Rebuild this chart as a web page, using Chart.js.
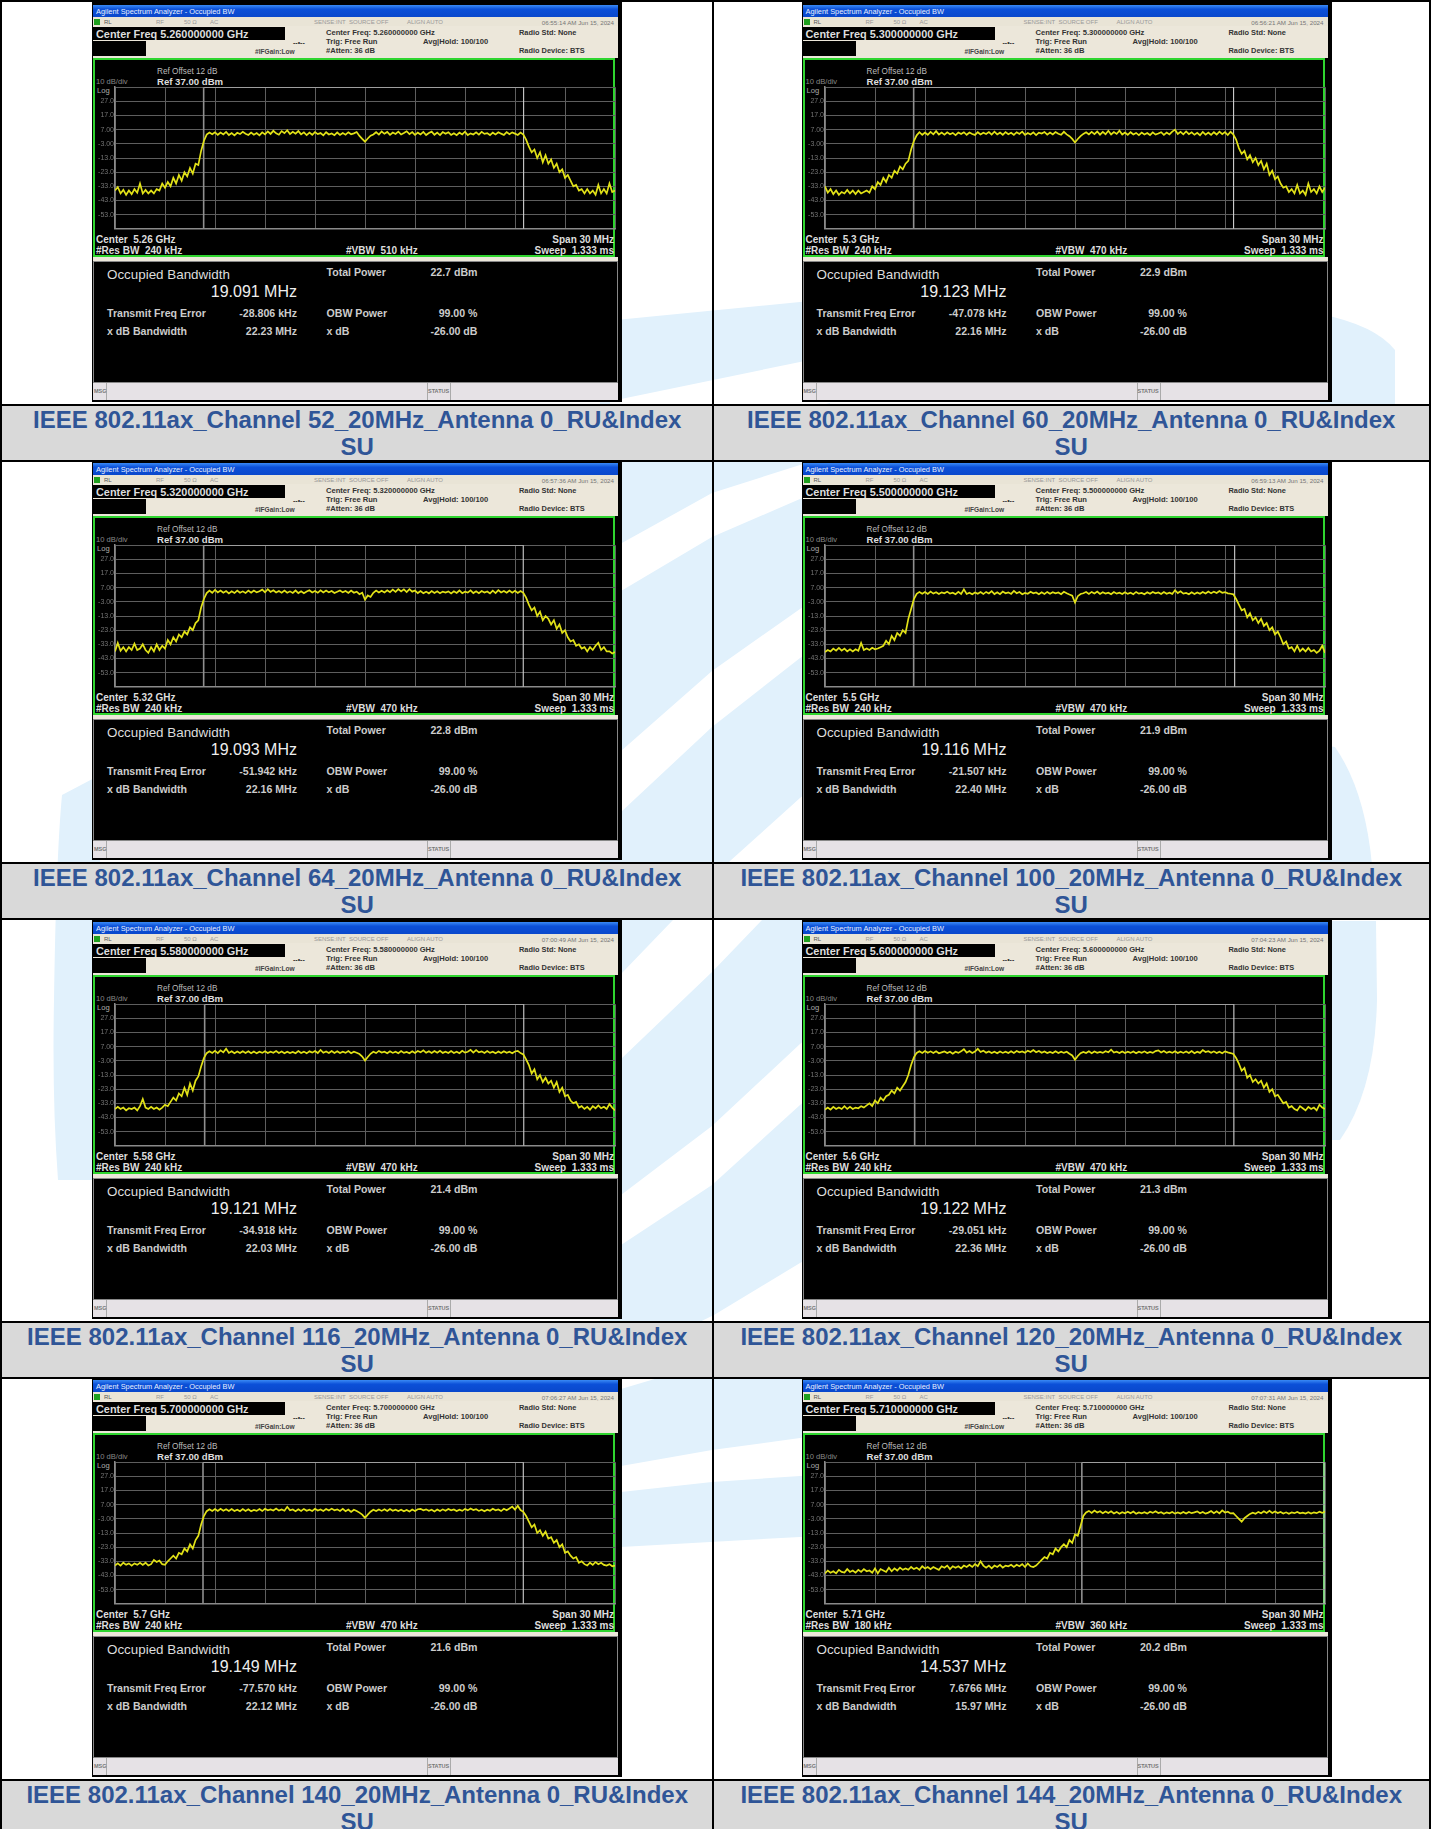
<!DOCTYPE html>
<html><head><meta charset="utf-8">
<script src="https://cdn.jsdelivr.net/npm/chart.js@4"></script>
<style>
html,body{margin:0;padding:0;background:#fff;width:1431px;height:1829px;overflow:hidden;font-family:"Liberation Sans",Arial,sans-serif}
#page{position:relative;width:1431px;height:1829px;overflow:hidden}
#wm{position:absolute;left:0;top:0}
.line{position:absolute;background:#000}
.cap{position:absolute;background:#d9d9d9;color:#2f5597;font-weight:bold;font-size:24px;line-height:27px;text-align:center;white-space:pre-line;overflow:hidden}
.shot{position:absolute;width:530px;height:400px;background:#000;overflow:hidden;filter:blur(.4px)}
.box{position:absolute}
.t{position:absolute;white-space:nowrap;transform:translateY(-50%)}
.r{transform:translate(-100%,-50%)}
canvas{position:absolute}
</style></head><body><div id="page">
<svg id="wm" width="1431" height="1829" viewBox="0 0 1431 1829">
<g fill="#e1f1fc">
<polygon points="600,322 621,319.5 800,302 830,300 830,1537 800,1537 621,1547 600,1547"/>
<path d="M1320,314 Q1375,325 1395,350 L1395,404 L1320,404 Z"/>
<path d="M1320,745 L1335,747 Q1365,790 1372,865 L1320,865 Z"/>
<path d="M1320,921 L1376,921 L1377,1000 Q1375,1090 1340,1140 L1320,1140 Z"/>
<path d="M100,775 L62,795 Q56,860 54,1000 Q52,1100 58,1180 L100,1180 Z"/>
</g>
<g fill="#fff">
<polygon points="610,401 621,399 800,362 830,355 830,403 800,410 621,445 610,447"/>
<polygon points="610,550 621,543.6 712,493 800,465 830,458 830,492 800,499 712,537 621,591 610,598"/>
<polygon points="610,760 621,751 712,671 800,609 830,592 830,641 800,658 712,727 621,812 610,822"/>
<polygon points="610,984 621,974 673,920 730,861 800,798 830,775 830,860 800,880 762,920 712,972 621,1059 610,1070"/>
<polygon points="610,1204 621,1195 712,1126 800,1044 830,1020 830,1082 800,1105 712,1185 621,1245 610,1254"/>
<polygon points="610,1368 621,1360 714,1315 800,1263 830,1247 830,1320 800,1330 658,1378 621,1389 610,1393"/>
<polygon points="610,1468 621,1466 712,1450 800,1438 830,1435 830,1474 800,1476 712,1482 621,1492 610,1493"/>
</g>
</svg>
</div>
<script>
const channels=[52,60,64,100,116,120,140,144];
const centerFreqFull=["5.260000000","5.300000000","5.320000000","5.500000000","5.580000000","5.600000000","5.700000000","5.710000000"];
const centerLabel=["5.26","5.3","5.32","5.5","5.58","5.6","5.7","5.71"];
const timeStamp=["06:55:14 AM Jun 15, 2024","06:56:21 AM Jun 15, 2024","06:57:36 AM Jun 15, 2024","06:59:13 AM Jun 15, 2024","07:00:49 AM Jun 15, 2024","07:04:23 AM Jun 15, 2024","07:06:27 AM Jun 15, 2024","07:07:31 AM Jun 15, 2024"];
const resBw=["240","240","240","240","240","240","240","180"];
const vbw=["510","470","470","470","470","470","470","360"];
const obwMHz=["19.091","19.123","19.093","19.116","19.121","19.122","19.149","14.537"];
const totalPower=["22.7","22.9","22.8","21.9","21.4","21.3","21.6","20.2"];
const freqError=["-28.806 kHz","-47.078 kHz","-51.942 kHz","-21.507 kHz","-34.918 kHz","-29.051 kHz","-77.570 kHz","7.6766 MHz"];
const xdbBandwidth=["22.23","22.16","22.16","22.40","22.03","22.36","22.12","15.97"];
const markerLeft=[-9.68,-9.68,-9.68,-9.68,-9.62,-9.62,-9.72,0.41];
const markerRight=[9.517,9.515,9.495,9.58,9.526,9.532,9.497,14.945];
const yTickValues=[27,17,7,-3,-13,-23,-33,-43,-53];
const yTickLabels=["27.0","17.0","7.00","-3.00","-13.0","-23.0","-33.0","-43.0","-53.0"];

const trace52=[-36,-33.5,-38,-35.5,-39,-36,-38.5,-35,-37.5,-31,
-38,-35.5,-38,-36,-38,-35,-36,-31,-34,-30,
-33,-27,-31,-25,-29,-23,-26,-20,-24,-17,
-18,-8,-1,3.5,5,3.8,5.2,3.4,4.9,3.6,
5.4,3.2,4.6,3,4.8,3.9,5.5,4.1,3.3,5,
3.5,4.6,3,5.1,3.7,5.8,4,6.2,4.4,3.4,
6,4.5,6.6,3.9,5.5,4.2,6,3.7,5.1,3.2,
4.9,3.4,5.3,3.9,4.6,3,5.2,3.6,4.3,3.1,
5,3.3,4.6,3.5,5.2,3.8,4.4,5.3,2.6,0.5,
-1.5,0.8,2.8,3.6,5.2,3.5,5.7,4.1,5.4,3.3,
5,4,5.6,3.6,4.6,5.9,3.9,5.3,3.3,4.9,
3.7,5.4,3.2,4.6,5.6,3.4,4.9,3.2,5.3,4.1,
5.2,3.3,4.5,3.1,4.9,3.7,5.6,3.2,4.4,3.6,
5.1,3.5,5.5,4,4.6,3.2,4.9,3.7,5.2,4.2,
3.3,5.3,3.8,5.1,4.2,3.3,5,3.6,0,-5,
-9,-7,-13,-9,-16,-11,-17,-14,-20,-17,
-23,-21,-27,-25,-29,-33,-32,-36,-35,-38,
-35,-38,-36,-39,-32,-38,-35,-38,-31,-37,
-36];
const trace60=[-33,-37.5,-35,-38.5,-36,-39,-37,-38,-35.5,-38,
-36,-38.5,-36,-38,-37,-36,-37.5,-33,-35,-30,
-32,-27,-30,-25,-27,-22,-24,-19,-21,-17,
-15,-7,-1,3,5.2,3.4,5,3.4,5.4,3.7,
6,3.6,4.9,3.5,5.1,3.8,4.7,3.2,5,3.9,
5.2,3.4,5,4,3.3,5.2,3.7,4.9,4,5.3,
3.5,5.6,3.7,4.9,3.4,5.3,3.8,4.8,3.3,5.2,
4,5.6,3.3,4.7,3.6,5.1,3.2,4.9,4.3,5.4,
3.5,5,3.6,5.3,4.1,3.4,5.5,3.7,2.4,0.5,
-2,0.4,2.5,4,5.1,3.6,5.4,3.8,5.7,3.5,
5.5,3.8,6.2,3.6,5.3,4,6.3,3.6,5,3.4,
5.2,3.6,4.7,3.2,4.9,3.6,4.6,3.2,5.1,3.5,
4.3,5.2,3.3,5,3.7,5.6,7,4,5.5,3.7,
5.8,3.8,5.1,3.4,4.8,3.1,5.4,3.5,5,3.3,
5.2,3.6,5.6,3.8,5.3,3.2,5.5,3.6,0,-6,
-10,-8,-14,-11,-16,-13,-18,-15,-21,-17,
-25,-22,-28,-26,-31,-34,-33,-37,-35,-38,
-32,-38,-36,-39,-31,-37,-35,-38,-33,-37,
-34];
const trace64=[-38,-32,-37.5,-35,-38,-35,-37,-32.5,-37,-36,
-33,-37,-39,-35,-38,-33,-37,-34,-36,-30,
-33,-28,-31,-26,-28,-24,-26,-21,-23,-18,
-16,-7,-1,3.2,5,3.4,5.4,3.6,5,3.4,
4.6,3,4.4,3.2,5,3.4,4.4,3.2,4.9,3.4,
5,3.7,4.5,5.6,3.8,5.9,4,5.2,3.6,4.7,
3.4,4.9,3.4,4.4,3.3,5,3.2,4.5,3.1,4.3,
5.2,3.6,4.6,3.4,5.1,3.6,5,3.7,4.6,3.2,
4.1,5,3.7,4.6,3.3,5,3.4,4.2,2.4,3.4,
-1.5,1.5,0.5,3.4,5,3.6,4.8,3.6,5.2,3.8,
5.6,4,6,4.3,5.8,3.9,6,4.2,5,3.2,
4.6,3.1,4.2,3,4.6,3.3,4.4,3,4.2,3.5,
4.4,3,4.5,3.3,5,3.1,4.1,3.5,5.1,3.2,
4.5,3.1,4.6,3.6,4.3,3,4.9,3.2,5.3,3.6,
4.6,3.4,5,3.5,4.8,3.3,4.7,3.4,0,-5,
-9,-7,-13,-10,-16,-13,-15,-19,-16,-22,
-19,-25,-23,-28,-31,-30,-34,-33,-36,-35,
-38,-35,-37,-34,-32,-37,-35,-38,-38,-39.5,
-38.5];
const trace100=[-38.5,-37,-38,-36,-37.5,-35.5,-37.5,-36,-38,-36.5,
-38,-36.5,-37.5,-32,-37,-36,-37,-35.5,-36.5,-36,
-35,-34,-30.5,-33,-27,-30,-25,-27,-23,-25,
-15,-8,-1,2.6,4,2.7,3.9,2.6,4.2,2.8,
3.8,2.5,3.7,3,4.2,2.8,3.5,2.4,4,2.6,
5.8,2.6,3.5,2.4,3.6,2.7,3.9,2.5,4,2.9,
4.6,2.5,3.8,2.4,4.2,3,3.7,2.6,4.7,3.1,
3.9,2.4,3.3,2.7,4.1,3,3.6,2.4,3.7,2.6,
4,2.7,3.8,3,3.6,2.4,4.1,3.1,2.2,1.4,
-3.5,1,2.5,3.1,3.9,2.6,4,2.9,4.3,2.6,
3.8,2.9,3.5,2.4,3.9,2.8,3.4,2.5,3.7,2.6,
3.4,2.4,4,2.8,3.3,2.4,3.7,2.7,3.9,3,
3.6,2.5,3.9,2.7,3.4,2.6,5.2,3.2,4.4,2.8,
3.3,2.4,3.7,2.5,3.6,2.7,3.9,2.9,4.3,3,
4.2,3.2,4.6,3.4,3.9,3,2.7,2.3,-1,-5,
-9,-8,-14,-11,-16,-14,-18,-15,-20,-18,
-23,-21,-26,-24,-28,-33,-31,-36,-35,-38,
-34,-38,-36,-38,-35.5,-38,-37,-39,-37.5,-34,
-39];
const trace116=[-37,-35.5,-37,-36,-38,-36.5,-37,-36,-38,-35,
-30,-36,-37,-35.5,-37,-36,-37.5,-36,-34,-35,
-32,-29,-31,-26,-28,-22,-27,-19,-24,-17,
-14,-7,-1,2.4,3.8,2.6,4,2.5,4.4,3,
5.5,2.6,3.8,2.4,3.6,2.5,3.8,2.6,3.7,2.4,
3.6,2.3,3.4,2.6,3.7,2.5,3.4,2.7,3.9,2.5,
3.6,2.4,3.5,2.5,3.3,2.4,3.9,2.6,3.5,2.3,
3.7,2.8,3.9,2.5,4.7,2.7,3.6,2.5,3.9,2.6,
3.7,2.5,3.4,2.6,3.9,2.4,3.5,2.7,1.8,0,
-2.8,-0.3,2,3.4,2.5,4,2.9,3.4,2.4,3.8,
2.6,3.5,2.4,3.9,2.6,3.3,2.4,3.7,2.5,3.9,
3,4.4,2.7,3.8,2.5,3.9,2.7,4.1,2.6,3.4,
2.5,3.9,2.6,3.5,2.4,4.1,2.8,3.4,4.8,2.8,
4.6,3,3.7,2.5,3.9,2.6,3.4,2.3,3.6,2.5,
3.8,2.7,3.4,2.4,3.6,4,2.5,1.5,-2,-6,
-12,-9,-16,-13,-18,-15,-19,-17,-22,-18,
-25,-22,-28,-27,-31,-33,-32,-36,-35,-37,
-35.5,-37.5,-35,-36.5,-34.5,-36.5,-35.5,-37,-33.5,-36,
-38];
const trace120=[-37.5,-36,-37.5,-35.5,-37,-36,-37,-35,-37,-35.5,
-37,-36,-36.5,-35,-36,-34.5,-33,-35,-31,-33,
-29,-31,-28,-27,-24,-26,-22,-24,-21,-18,
-13,-6,-0.5,2.6,3.8,2.6,3.9,2.7,3.7,2.5,
3.8,2.4,3,3.6,2.5,3.4,2,3.4,2.6,3.7,
5.2,2.8,3.9,2.5,3.6,5.5,3.2,4.2,2.7,3.6,
2.5,3.4,2.4,3.6,2.6,3.5,2.5,3.7,2.6,3.9,
3,3.6,2.7,4.2,3.2,4.6,3.1,4,2.7,3.6,
2.5,3.3,2.5,3.7,2.5,3.5,2.6,3.4,2,0.8,
-2.2,0.4,2.4,3.3,2.5,3.7,2.4,3.6,2.7,3.3,
2.6,3.8,3,4.9,2.8,3.4,2.5,3.6,2.5,3.4,
2.6,3.6,2.4,3.4,2.7,3.7,2.5,3.3,2.6,3.9,
4.4,2.9,3.9,2.6,3.4,2.6,3.8,2.5,3.5,2.6,
3.6,2.5,3.9,2.4,3.4,2.6,4.6,3.2,3.8,2.7,
3.7,2.5,3.5,2.4,3.7,3,2.5,1.8,-1,-5,
-10,-8,-15,-13,-18,-16,-19,-17,-22,-19,
-25,-23,-28,-27,-30,-33,-32,-36,-35,-37,
-38,-35,-36.5,-38,-35.5,-37,-36,-38,-34,-36,
-37];
const trace140=[-36,-34.5,-36,-34,-35.5,-34.5,-36,-34.5,-35.5,-34,
-35.5,-34,-36,-35,-32,-33.5,-32.5,-35,-35.5,-33,
-31,-29,-31,-27,-28,-24,-26,-21,-24,-18,
-15,-7,-1,2.4,3.7,2.5,3.9,2.6,4.1,2.7,
3.8,2.5,3.9,2.6,3.5,2.4,3.9,2.6,3.7,2.4,
3.3,2.6,3.9,2.5,4.1,3,3.7,2.9,4.2,2.8,
3.6,2.7,5.5,3,3.6,2.4,3.7,2.6,4,2.7,
3.5,2.6,4.1,2.9,3.6,2.5,3.9,2.9,4.2,3,
3.7,2.6,4,2.4,3.6,1.9,3.4,2.6,1.4,0,
-2.3,0,2,3.4,2.5,3.6,2.6,3.7,2.5,3.9,
2.7,3.5,2.5,3.4,2.3,3.3,2.2,3.6,2.6,3.8,
4.1,3,3.7,2.7,3.4,2.2,3.6,2.5,3.7,2.7,
3.9,3,3.6,2.5,3.4,2.6,4,3,4.3,3.2,
3.8,2.6,3.5,2.4,3.5,2.7,4.1,3,3.6,2.5,
4.1,3.1,4.3,5.6,3.5,6.2,3.2,2,-1,-5,
-9,-7,-13,-11,-15,-12,-17,-16,-20,-18,
-23,-21,-27,-26,-29,-31,-30,-34,-33,-35,
-36,-34,-35.5,-33.5,-35,-34,-35.5,-36,-35,-36.5,
-36];
const trace144=[-41.5,-39.5,-41,-40,-41.5,-39,-40.5,-41,-38.5,-40.5,
-39.5,-41,-39,-40.5,-38.5,-40,-39.5,-41,-38,-41.5,
-38.5,-39.5,-40.5,-37.5,-40,-38,-39.5,-37.5,-39,-38,
-39,-37,-38.5,-37.5,-39,-36.5,-38,-37,-38.5,-37,
-38,-39,-36.5,-37.5,-36,-38.5,-36.5,-37.5,-36.5,-38,
-36,-37,-35.5,-37,-35,-36.5,-33,-36,-37.5,-36,
-38,-36,-37,-35.5,-37.5,-36,-36.5,-35.5,-37,-35.5,
-36.5,-35,-37,-34.5,-36.5,-37,-36,-34,-32,-30,
-31,-27,-28,-24,-26,-23,-21,-23,-18,-20,
-14,-15,-8,-1,1.5,2.6,1.2,2.8,1.5,2.4,
1,2.2,1.1,2.3,0.8,1.9,0.6,1.7,0.9,2,
1,2.1,0.6,1.5,0.9,1.7,0.7,2,1.2,2.3,
1.1,1.7,0.6,1.6,0.9,1.9,0.7,1.5,0.7,1.8,
0.8,1.9,1,1.6,2.3,1,1.9,0.7,1.4,2.5,
1,2.3,0.9,3,1.5,2,0.8,1,-1,-3,
-5,-2.5,-1,0.5,1.4,0.6,1.9,1,2.3,1.2,
2.6,1.2,2.2,1.1,1.9,0.8,1.6,0.6,1.5,1,
1.9,0.9,1.4,0.7,1.7,0.8,1.6,1,2,1.2,
2.2];
const traces=[trace52,trace60,trace64,trace100,trace116,trace120,trace140,trace144];

const page=document.getElementById('page');
const ROW=458.3, COLX=[92,801.5], MID=712.5;
function el(cls,css,parent){const d=document.createElement('div');d.className=cls;Object.assign(d.style,css);(parent||page).appendChild(d);return d;}
function box(p,x,y,w,h,bg){return el('box',{left:x+'px',top:y+'px',width:w+'px',height:h+'px',background:bg},p);}
function txt(p,s,x,y,size,color,bold,right){const d=el('t'+(right?' r':''),{left:x+'px',top:y+'px',fontSize:size+'px',color:color,fontWeight:bold?'bold':'normal'},p);d.textContent=s;return d;}

function buildShot(i,left,top){
  const p=el('shot',{left:left+'px',top:top+'px'});
  box(p,1,3,525,12,'linear-gradient(180deg,#3a8af5,#0c50d8 35%,#0a48cc)');
  txt(p,'Agilent Spectrum Analyzer - Occupied BW',4,9,7.4,'#e8f0ff',false);
  box(p,1,15,525,41,'#ece7da');
  box(p,1,15,525,9,'#e9e4d6');
  box(p,2,17,6,6,'#1fa01f');
  txt(p,'RL',12,20,6,'#555');
  txt(p,'RF',64,20,6,'#999');
  txt(p,'50 Ω',92,20,6,'#999');
  txt(p,'AC',118,20,6,'#999');
  txt(p,'SENSE:INT',222,20,6,'#999');
  txt(p,'SOURCE OFF',257,20,6,'#999');
  txt(p,'ALIGN AUTO',315,20,6,'#999');
  txt(p,timeStamp[i],522,20,6.2,'#777',false,true);
  box(p,1,25,192,13,'#000');
  txt(p,'Center Freq '+centerFreqFull[i]+' GHz',4,32,10.9,'#ddd',true);
  box(p,1,39,53,15,'#000');
  txt(p,'#IFGain:Low',163,49,6.6,'#444',true);
  txt(p,'Center Freq: '+centerFreqFull[i]+' GHz',234,30,7.6,'#333',true);
  txt(p,'Trig: Free Run',234,39,7.6,'#333',true);
  txt(p,'#Atten: 36 dB',234,48,7.6,'#333',true);
  txt(p,'Avg|Hold: 100/100',331,39,7.6,'#333',true);
  txt(p,'Radio Std: None',427,30,7.4,'#333',true);
  txt(p,'Radio Device: BTS',427,48,7.4,'#333',true);
  txt(p,'--•--',201,40,7,'#333',true);
  const g=box(p,1,56,522,199,'#000');g.style.border='2px solid #2fd52f';g.style.boxSizing='border-box';
  txt(p,'Ref Offset 12 dB',65,69,8.2,'#bbb',false);
  txt(p,'Ref 37.00 dBm',65,79,9.6,'#ddd',true);
  txt(p,'10 dB/div',4,79,7.6,'#888');
  txt(p,'Log',5,88,7.6,'#aaa');
  txt(p,'Center  '+centerLabel[i]+' GHz',4,237,10,'#ddd',true).style.whiteSpace='pre';
  txt(p,'#Res BW  '+resBw[i]+' kHz',4,248,10,'#ddd',true).style.whiteSpace='pre';
  txt(p,'#VBW  '+vbw[i]+' kHz',254,248,10,'#ddd',true).style.whiteSpace='pre';
  txt(p,'Span 30 MHz',522,237,10,'#ddd',true,true);
  txt(p,'Sweep  1.333 ms',522,248,10,'#ddd',true,true).style.whiteSpace='pre';
  box(p,1,255,525,126,'#ece7da');
  const q=box(p,1,259,525,122,'#000');q.style.border='1px solid #888';q.style.boxSizing='border-box';
  txt(p,'Occupied Bandwidth',15,272,13.4,'#ddd',false);
  txt(p,obwMHz[i]+' MHz',205,290,16,'#eee',false,true);
  txt(p,'Total Power',234.5,270,10.6,'#ccc',true);
  txt(p,totalPower[i]+' dBm',385.5,270,10.6,'#ccc',true,true);
  txt(p,'Transmit Freq Error',15,311,10.6,'#ccc',true);
  txt(p,freqError[i],205,311,10.6,'#ccc',true,true);
  txt(p,'OBW Power',234.5,311,10.6,'#ccc',true);
  txt(p,'99.00 %',385.5,311,10.6,'#ccc',true,true);
  txt(p,'x dB Bandwidth',15,329,10.6,'#ccc',true);
  txt(p,xdbBandwidth[i]+' MHz',205,329,10.6,'#ccc',true,true);
  txt(p,'x dB',234.5,329,10.6,'#ccc',true);
  txt(p,'-26.00 dB',385.5,329,10.6,'#ccc',true,true);
  box(p,1,381,525,17,'#e6e2e6');
  box(p,14,381,1,17,'#aaa');box(p,335,381,1,17,'#aaa');box(p,358,381,1,17,'#aaa');
  txt(p,'MSG',2,389,5.5,'#777',true);
  txt(p,'STATUS',336,389,5.5,'#777',true);
  const c=document.createElement('canvas');
  c.width=525;c.height=152;c.style.left='2px';c.style.top='80px';c.style.width='525px';c.style.height='152px';
  p.appendChild(c);
  const tr=traces[i], n=tr.length-1;
  const pts=tr.map((v,k)=>({x:-15+30*k/n,y:v}));
  new Chart(c,{type:'scatter',data:{datasets:[
    {data:pts,showLine:true,borderColor:'#e2e218',borderWidth:1.7,pointRadius:0,tension:0,order:1},
    {data:[{x:markerLeft[i],y:-63},{x:markerLeft[i],y:37}],showLine:true,borderColor:'#8f8f8f',borderWidth:1.6,pointRadius:0,order:2},
    {data:[{x:markerLeft[i],y:37},{x:markerRight[i],y:37},{x:markerRight[i],y:-63}],showLine:true,borderColor:'#d0d0d0',borderWidth:1.1,pointRadius:0,order:2}
  ]},options:{responsive:false,animation:false,devicePixelRatio:1,events:[],
    layout:{padding:{top:4,bottom:3,right:4,left:0}},
    plugins:{legend:{display:false},tooltip:{enabled:false},title:{display:false}},
    scales:{
      x:{type:'linear',min:-15,max:15,ticks:{display:false,stepSize:3},
         grid:{color:'#5e5e5e',lineWidth:1,drawTicks:false},border:{color:'#8a8a8a',width:1.5}},
      y:{type:'linear',min:-63,max:37,afterFit:s=>{s.width=21;},
         ticks:{stepSize:10,autoSkip:false,maxRotation:0,padding:1,color:'#747474',font:{family:'"Liberation Sans"',size:7},
           callback:v=>{const k=yTickValues.findIndex(t=>Math.abs(t-v)<.01);return k<0?'':yTickLabels[k];}},
         grid:{color:'#5e5e5e',lineWidth:1,drawTicks:false},border:{color:'#8a8a8a',width:1.5}}
    }}});
}

channels.forEach((ch,i)=>{
  const row=Math.floor(i/2), col=i%2, y0=row*ROW;
  buildShot(i,COLX[col],y0+2);
  const cap=el('cap',{left:(col?MID+1:2)+'px',top:(y0+406)+'px',width:(col?1429-MID-1:MID-2)+'px',height:'54px'});
  cap.textContent='IEEE 802.11ax_Channel '+ch+'_20MHz_Antenna 0_RU&Index\nSU';
});
for(let r=0;r<4;r++){
  el('line',{left:'0',top:(r*ROW+404)+'px',width:'1431px',height:'2px'});
  if(r<3) el('line',{left:'0',top:(r*ROW+460)+'px',width:'1431px',height:'2px'});
}
el('line',{left:'0',top:'0',width:'1431px',height:'2px'});
el('line',{left:'0',top:'0',width:'2px',height:'1829px'});
el('line',{left:MID-1+'px',top:'0',width:'2px',height:'1829px'});
el('line',{left:'1429px',top:'0',width:'2px',height:'1829px'});
</script></body></html>
